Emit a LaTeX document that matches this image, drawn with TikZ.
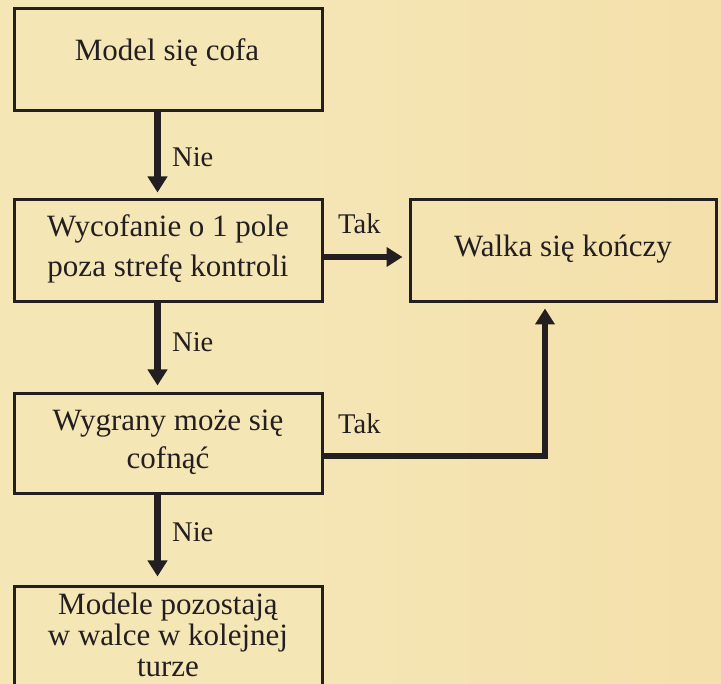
\documentclass[tikz,border=0pt]{standalone}
\usepackage{fontspec}
\setmainfont{Liberation Serif}
\usetikzlibrary{arrows.meta,calc}
\definecolor{ink}{HTML}{231F20}
\definecolor{pA}{HTML}{F4E5B6}
\definecolor{pB}{HTML}{F5E6B6}
\definecolor{pC}{HTML}{F3DFA8}
\definecolor{pD}{HTML}{EBCA85}
\definecolor{pE}{HTML}{DEAA5C}
\pgfdeclarehorizontalshading{parch}{100bp}{color(0bp)=(pA); color(45bp)=(pB); color(80bp)=(pC); color(93bp)=(pD); color(100bp)=(pE)}
\tikzset{
  box/.style={draw=ink, line width=3pt, inner sep=0pt},
  txt/.style={text=ink, align=center, inner sep=0pt},
  arr/.style={draw=ink, line width=6.5pt, -{Triangle[length=16pt,width=19pt]}, shorten >=6pt},
  lbl/.style={text=ink, anchor=base west, inner sep=0pt, font=\fontsize{28.5}{34}\selectfont}
}
\begin{document}
\begin{tikzpicture}[x=1pt,y=-1pt]
\clip (0,0) rectangle (721,684);
\shade[shading=parch] (0,0) rectangle (721,684);
% boxes
\node[box, minimum width=308pt, minimum height=102pt] (b1) at (168,60) {};
\node[box, minimum width=308pt, minimum height=102pt] (b2) at (168,251) {};
\node[box, minimum width=306pt, minimum height=102pt] (b5) at (563,251) {};
\node[box, minimum width=308pt, minimum height=100pt] (b3) at (168,444) {};
\node[box, minimum width=308pt, minimum height=152pt] (b4) at (168,663) {};
% texts
\node[txt, font=\fontsize{31}{36}\selectfont] (t1) at (167,52.7) {Model się cofa};
\node[txt, font=\fontsize{31}{40}\selectfont] (t2) at (168,248.8) {Wycofanie o 1 pole\\poza strefę kontroli};
\node[txt, font=\fontsize{31}{36}\selectfont] (t5) at (563,248.8) {Walka się kończy};
\node[txt, font=\fontsize{31}{38}\selectfont] (t3) at (168,441.8) {Wygrany może się\\cofnąć};
\node[txt, font=\fontsize{31}{31}\selectfont] (t4) at (168,634.4) {Modele pozostają\\w walce w kolejnej\\turze};
% helper coordinates
\coordinate (cx) at (157.5,0);
\coordinate (cx2) at (545,0);
\coordinate (cy1) at (0,257);
\coordinate (cy2) at (0,456);
% connectors
\draw[arr] (b1.south -| cx) -- (b2.north -| cx);
\draw[arr, shorten >=7pt] (b2.south -| cx) -- (b3.north -| cx);
\draw[arr, shorten >=9pt] (b3.south -| cx) -- (b4.north -| cx);
\draw[arr] (b2.east |- cy1) -- (b5.west |- cy1);
\draw[arr, shorten >=5pt] (b3.east |- cy2) -| (b5.south -| cx2);
% labels
\node[lbl] (n1) at (172,167) {Nie};
\node[lbl] (n2) at (172,352) {Nie};
\node[lbl] (n3) at (172,542) {Nie};
\node[lbl] (k1) at (338,234) {Tak};
\node[lbl] (k2) at (338,434) {Tak};
\end{tikzpicture}
\end{document}
